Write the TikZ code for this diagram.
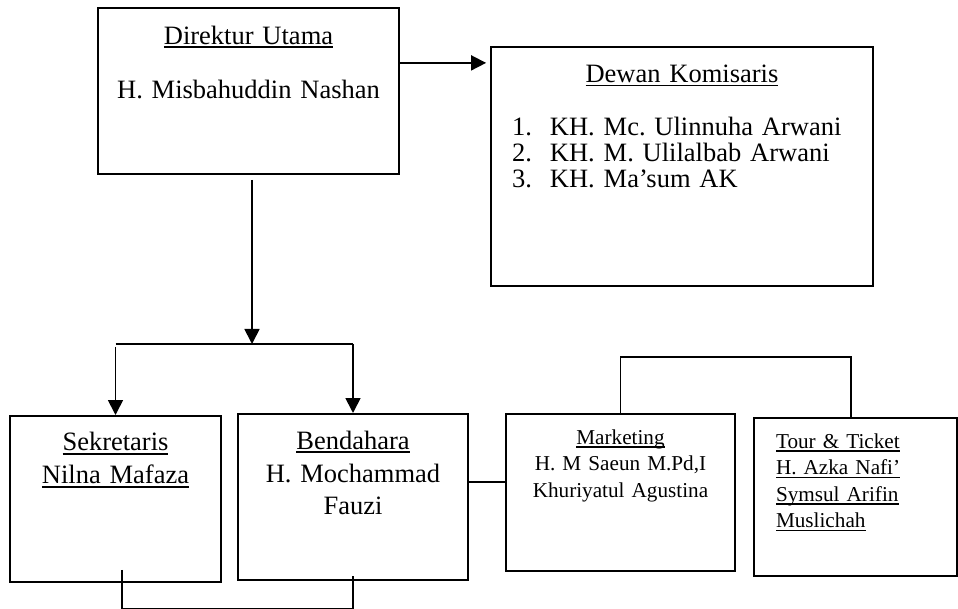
\documentclass[tikz,border=0pt]{standalone}
\usepackage{fontspec}
\setmainfont{Liberation Serif}
\usepackage{tikz}
\usetikzlibrary{arrows.meta}

\frenchspacing
\newsavebox{\ulnbox}
\newcommand{\uln}[1]{\leavevmode\sbox\ulnbox{#1}\rlap{\rule[-3.6pt]{\wd\ulnbox}{1.8pt}}\usebox\ulnbox}

\begin{document}
\begin{tikzpicture}[x=1pt, y=-1pt,
    box/.style={draw, line width=1.8pt, anchor=north, inner sep=0pt, align=center},
    listbox/.style={draw, line width=1.8pt, anchor=north, inner ysep=0pt, align=left},
    link/.style={line width=1.8pt},
    arr/.style={line width=1.8pt, -{Triangle[length=15pt,width=15pt]}}]
    \useasboundingbox (0,0) rectangle (958,609);

    % top row
    \node[box, text width=301pt, text height=36.3pt, text depth=129.7pt,
          font=\fontsize{26.5}{27}\selectfont] (dir) at (248.5,7)
          {\uln{Direktur Utama}\\[27pt] H. Misbahuddin Nashan};
    \node[listbox, text width=340pt, inner xsep=21pt, text height=36pt, text depth=203pt,
          font=\fontsize{26.5}{26}\selectfont] (dew) at (682,46)
          {\makebox[\linewidth]{\uln{Dewan Komisaris}}\\[27pt]
           \makebox[38pt][l]{1.}KH. Mc. Ulinnuha Arwani\\
           \makebox[38pt][l]{2.}KH. M. Ulilalbab Arwani\\
           \makebox[38pt][l]{3.}KH. Ma'sum AK};

    % bottom row
    \node[box, text width=211pt, text height=35pt, text depth=131pt,
          font=\fontsize{26.5}{33}\selectfont] (sek) at (115.5,415)
          {\uln{Sekretaris}\\ \uln{Nilna Mafaza}};
    \node[box, text width=230pt, text height=35.3pt, text depth=130.7pt,
          font=\fontsize{26.5}{32.8}\selectfont] (ben) at (353,413)
          {\uln{Bendahara}\\ H. Mochammad\\ Fauzi};
    \node[box, text width=229pt, text height=30.3pt, text depth=126.7pt,
          font=\fontsize{21.2}{26.7}\selectfont] (mkt) at (620.5,413)
          {\uln{Marketing}\\ H. M Saeun M.Pd,I\\ Khuriyatul Agustina};
    \node[listbox, text width=159pt, inner xsep=22pt, text height=30.3pt, text depth=127.7pt,
          font=\fontsize{21.2}{26.5}\selectfont] (tour) at (855.5,417)
          {\uln{Tour \& Ticket}\\ \uln{H. Azka Nafi'}\\ \uln{Symsul Arifin}\\ \uln{Muslichah}};

    % connectors
    \coordinate (split) at (252,344);
    \draw[arr, shorten >=4pt] ([yshift=28pt]dir.east) -- ([yshift=28pt]dir.east -| dew.west);
    \draw[arr] ([xshift=3.5pt,yshift=-5pt]dir.south) -- (split);
    \draw[link] (sek.north |- split) -- (ben.north |- split);
    \draw[arr] ([yshift=-3pt]sek.north |- split) -- (sek.north);
    \draw[arr] (ben.north |- split) -- (ben.north);
    \draw[link] ([yshift=15pt]ben.east) -- ([yshift=15pt]ben.east -| mkt.west);
    \draw[link] (mkt.north) -- ++(0,-56) -| ([xshift=-4.5pt]tour.north);
    \draw[link] ([xshift=6.5pt,yshift=13pt]sek.south) -- ++(0,39) -| ([yshift=5pt]ben.south);
\end{tikzpicture}
\end{document}
